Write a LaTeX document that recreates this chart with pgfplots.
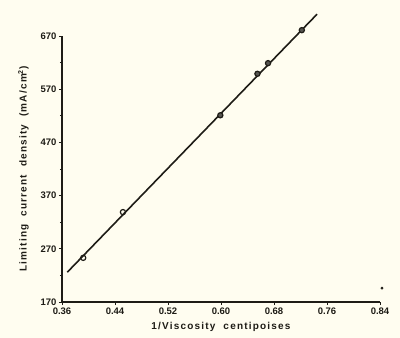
\documentclass[border=0pt]{standalone}
\usepackage{fontspec}
\setmainfont{Liberation Sans}
\usepackage{pgfplots}
\pgfplotsset{compat=1.18}
\usetikzlibrary{backgrounds}
\definecolor{paper}{RGB}{255,253,240}
\definecolor{ink}{RGB}{30,28,22}
\newfontfamily\labfont[LetterSpace=12]{Liberation Sans}
\begin{document}
\begin{tikzpicture}
\begin{axis}[
  name=ax,
  scale only axis,
  width=318pt, height=266pt,
  xmin=0.36, xmax=0.84, ymin=170, ymax=670,
  axis lines=left,
  axis line style={-, ink, line width=1.3pt},
  clip=false,
  xtick={0.36,0.44,0.52,0.60,0.68,0.76,0.84},
  xticklabels={0.36,0.44,0.52,0.60,0.68,0.76,0.84},
  ytick={170,270,370,470,570,670},
  yticklabels={170,270,370,470,570,670},
  minor y tick num=1,
  tick style={ink, line width=0.8pt},
  major tick length=3pt, minor tick length=2pt,
  tick align=outside,
  ticklabel style={font=\bfseries\fontsize{9.5}{11}\selectfont, text=ink},
  xticklabel style={yshift=1pt},
  yticklabel style={xshift=1pt},
  xlabel={1/Viscosity\ \ centipoises},
  ylabel={Limiting\ \ current\ \ density\ \ (mA/cm$^{\mathbf{2}}$)},
  label style={font=\labfont\bfseries\fontsize{10}{12}\selectfont, text=ink},
  xlabel style={yshift=-1pt},
  ylabel style={yshift=5pt},
]
\addplot[ink, line width=1.6pt] coordinates {(0.368,226) (0.745,711)};
\addplot[only marks, mark=o, mark size=2.6pt, ink, mark options={line width=1.2pt, fill=paper}] coordinates {
  (0.392,253) (0.452,339)};
\addplot[only marks, mark=*, mark size=2.6pt, ink, mark options={line width=1.2pt, draw=ink, fill=ink!75}] coordinates {
  (0.599,521) (0.655,599) (0.671,619) (0.722,681)};
\addplot[only marks, mark=*, mark size=1.2pt, ink] coordinates {(0.843,196)};
\coordinate (bl) at (rel axis cs:0,0);
\end{axis}
\begin{scope}[on background layer]
\fill[paper] (bl) ++(-62pt,-36pt) rectangle ++(400pt,338pt);
\end{scope}
\end{tikzpicture}
\end{document}
